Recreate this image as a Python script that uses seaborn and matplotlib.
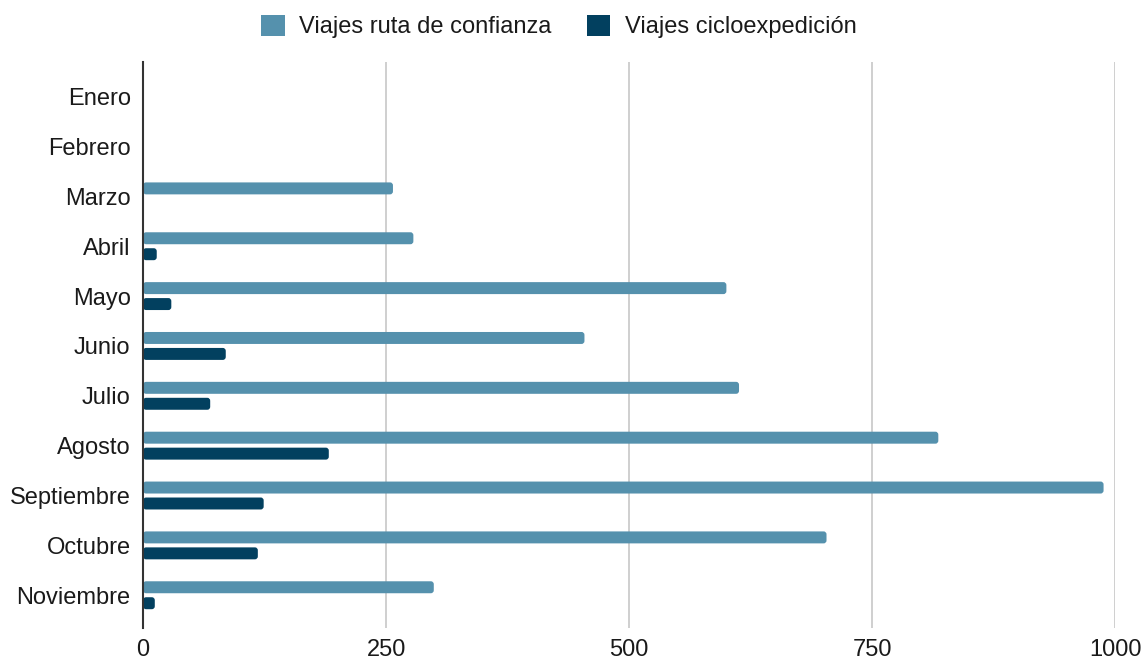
import numpy as np
import pandas as pd
import seaborn as sns
import matplotlib.pyplot as plt
from matplotlib.patches import Patch, FancyBboxPatch

# --- data ---
MESES = ["Enero", "Febrero", "Marzo", "Abril", "Mayo", "Junio", "Julio",
         "Agosto", "Septiembre", "Octubre", "Noviembre"]
RUTA_CONFIANZA = [0, 0, 257, 278, 600, 454, 613, 818, 988, 703, 299]
CICLOEXPEDICION = [0, 0, 0, 14, 29, 85, 69, 191, 124, 118, 12]
SERIES = ["Viajes ruta de confianza", "Viajes cicloexpedición"]
X_TICKS = [0, 250, 500, 750, 1000]

LIGHT = "#5591ad"
DARK = "#02405f"
TEXT = "#1a1a1a"

df = pd.DataFrame({
    "mes": MESES * 2,
    "viajes": RUTA_CONFIANZA + CICLOEXPEDICION,
    "serie": [SERIES[0]] * len(MESES) + [SERIES[1]] * len(MESES),
})

sns.set_theme(style="white")
plt.rcParams["font.family"] = ["Liberation Sans", "DejaVu Sans"]

fig, ax = plt.subplots(figsize=(11.45, 6.64), dpi=100)
fig.subplots_adjust(left=0.125, right=0.974, top=0.907, bottom=0.054)

sns.barplot(data=df, x="viajes", y="mes", hue="serie", order=MESES,
            hue_order=SERIES, palette=[LIGHT, DARK], orient="h",
            width=0.64, gap=0.25, saturation=1, legend=False, ax=ax,
            linewidth=0)

ax.set_xlim(0, 1000)
ax.set_ylim(len(MESES) - 1 + 0.66, -0.7)

# swap the plain rectangles for bars with slightly rounded ends
for p in list(ax.patches):
    x, y = p.get_x(), p.get_y()
    w, h = p.get_width(), p.get_height()
    fc = p.get_facecolor()
    p.remove()
    if w <= 0:
        continue
    ax.add_patch(FancyBboxPatch((x, y), w, h,
                                boxstyle="round,pad=0,rounding_size=3",
                                mutation_aspect=0.02, facecolor=fc,
                                edgecolor="none", zorder=2))

ax.set_xticks(X_TICKS)
ax.set_xticklabels([str(t) for t in X_TICKS])
ax.set_xlabel("")
ax.set_ylabel("")

# vertical grid only, no grid at 0 (the axis line sits there)
for t in X_TICKS[1:]:
    ax.axvline(t, color="#cccccc", lw=1.3, zorder=0)

for side in ["top", "right", "bottom"]:
    ax.spines[side].set_visible(False)
ax.spines["left"].set_color("#333333")
ax.spines["left"].set_linewidth(1.5)
ax.spines["left"].set_zorder(3)
ax.tick_params(axis="both", length=0, labelsize=17, colors=TEXT)
ax.tick_params(axis="x", pad=8)
ax.tick_params(axis="y", pad=9)

handles = [Patch(facecolor=LIGHT, edgecolor="none", label=SERIES[0]),
           Patch(facecolor=DARK, edgecolor="none", label=SERIES[1])]
leg = fig.legend(handles=handles, loc="upper center", ncol=2, frameon=False,
                 bbox_to_anchor=(0.488, 1.01), fontsize=17, handlelength=1.0,
                 handleheight=1.0, handletextpad=0.6, columnspacing=1.5)
for txt in leg.get_texts():
    txt.set_color(TEXT)

fig.savefig("out.png", dpi=100)
